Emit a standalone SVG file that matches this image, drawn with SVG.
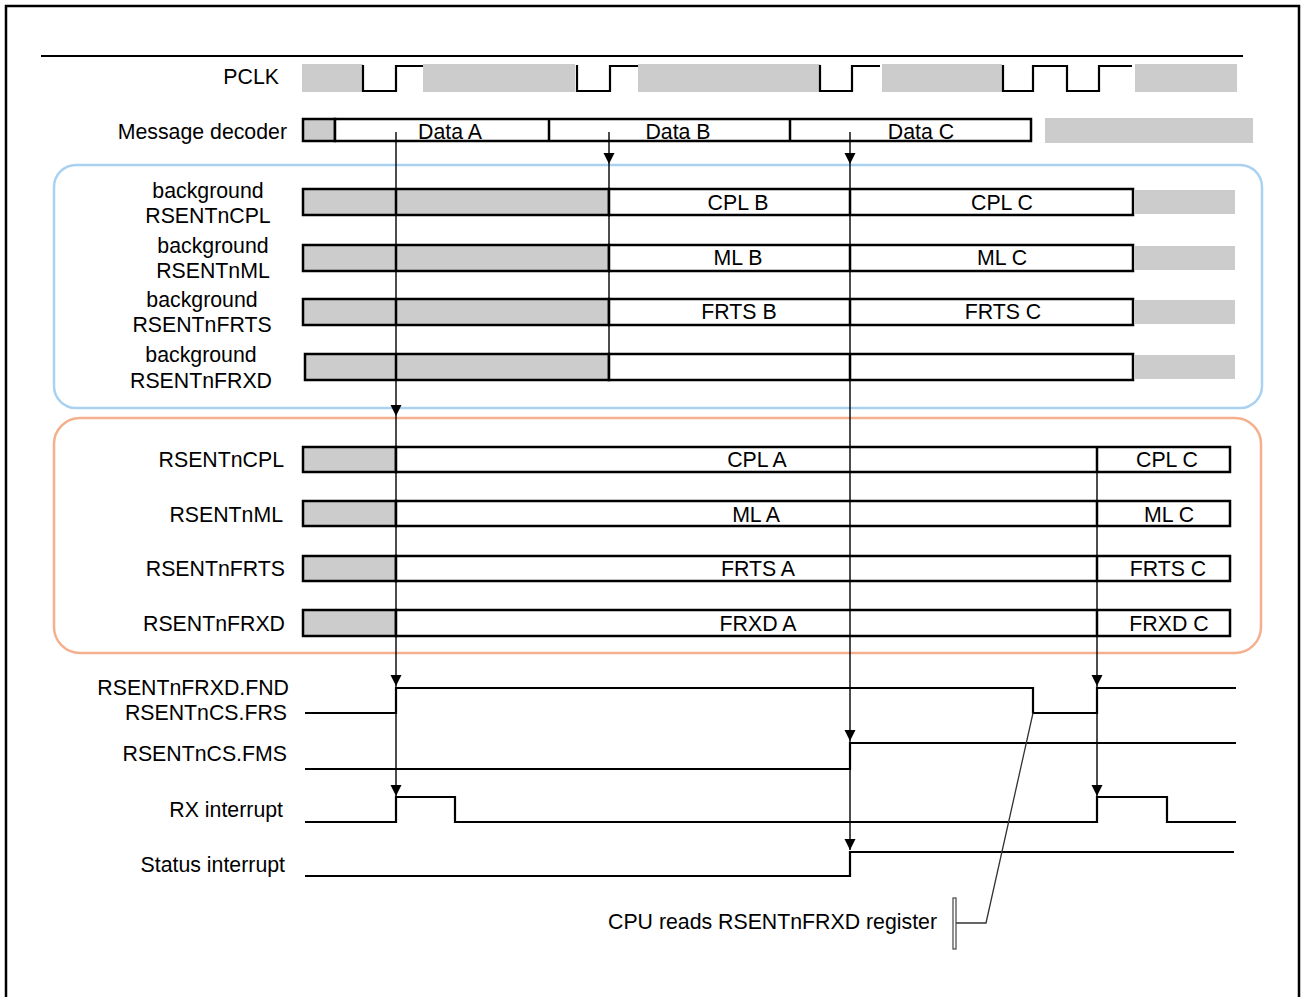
<svg xmlns="http://www.w3.org/2000/svg" width="1301" height="997" viewBox="0 0 1301 997">
<style>
text{font-family:"Liberation Sans",Arial,sans-serif;font-size:21.3px;fill:#000}
.r{text-anchor:end}.c{text-anchor:middle}
.box{fill:#fff;stroke:#000;stroke-width:2.5}
.gbox{fill:#ccc;stroke:#000;stroke-width:2.5}
.g{fill:#ccc;stroke:none}
.div{stroke:#000;stroke-width:2.5}
.wave{fill:none;stroke:#000;stroke-width:2.2}
.arr{stroke:#000;stroke-width:1.4;fill:none}
</style>
<defs>
<marker id="ah" markerUnits="userSpaceOnUse" markerWidth="12" markerHeight="12" refX="11" refY="6" orient="auto">
<path d="M0,0.5 L11,6 L0,11.5 z" fill="#000"/>
</marker>
</defs>
<rect x="0" y="0" width="1301" height="997" fill="#fff"/>
<rect x="6" y="6" width="1293" height="1000" fill="none" stroke="#000" stroke-width="2.5"/>
<line x1="41" y1="56" x2="1243" y2="56" stroke="#000" stroke-width="2.2"/>

<g id="regions">
<rect x="54" y="165" width="1208" height="243" rx="22" fill="none" stroke="#a9d1f2" stroke-width="2.5"/>
<rect x="54" y="418" width="1207" height="235" rx="26" fill="none" stroke="#f4b08c" stroke-width="2.5"/>
</g>

<g id="pclk">
<text class="r" x="279" y="84">PCLK</text>
<rect class="g" x="302" y="64" width="61" height="28"/>
<rect class="g" x="423" y="64" width="152" height="28"/>
<rect class="g" x="638" y="64" width="182" height="28"/>
<rect class="g" x="882" y="64" width="120" height="28"/>
<rect class="g" x="1135" y="64" width="102" height="28"/>
<path class="wave" d="M363,65 V91 H396 V66 H423"/>
<path class="wave" d="M577,65 V91 H610 V66 H638"/>
<path class="wave" d="M820,65 V91 H852 V66 H880"/>
<path class="wave" d="M1003,65 V91 H1033 V66 H1067 V91 H1099 V66 H1132"/>
</g>

<g id="decoder">
<text class="r" x="287" y="139">Message decoder</text>
<rect class="gbox" x="303" y="119" width="32" height="22"/>
<rect class="box" x="335" y="119" width="696" height="22"/>
<line class="div" x1="549" y1="119" x2="549" y2="141"/>
<line class="div" x1="790" y1="119" x2="790" y2="141"/>
<text class="c" x="450" y="139">Data A</text>
<text class="c" x="678" y="139">Data B</text>
<text class="c" x="921" y="139">Data C</text>
<rect class="g" x="1045" y="118" width="208" height="25"/>
</g>

<g id="bg-cpl">
<text class="c" x="208" y="198">background</text>
<text class="c" x="208" y="223">RSENTnCPL</text>
<rect class="gbox" x="303" y="189" width="306" height="26"/>
<rect class="box" x="609" y="189" width="524" height="26"/>
<line class="div" x1="396" y1="189" x2="396" y2="215"/>
<line class="div" x1="850" y1="189" x2="850" y2="215"/>
<text class="c" x="738" y="210">CPL B</text>
<text class="c" x="1002" y="210">CPL C</text>
<rect class="g" x="1134" y="190" width="101" height="24"/>
</g>

<g id="bg-ml">
<text class="c" x="213" y="253">background</text>
<text class="c" x="213" y="278">RSENTnML</text>
<rect class="gbox" x="303" y="245" width="306" height="26"/>
<rect class="box" x="609" y="245" width="524" height="26"/>
<line class="div" x1="396" y1="245" x2="396" y2="271"/>
<line class="div" x1="850" y1="245" x2="850" y2="271"/>
<text class="c" x="738" y="265">ML B</text>
<text class="c" x="1002" y="265">ML C</text>
<rect class="g" x="1134" y="246" width="101" height="24"/>
</g>

<g id="bg-frts">
<text class="c" x="202" y="307">background</text>
<text class="c" x="202" y="332">RSENTnFRTS</text>
<rect class="gbox" x="303" y="299" width="306" height="26"/>
<rect class="box" x="609" y="299" width="524" height="26"/>
<line class="div" x1="396" y1="299" x2="396" y2="325"/>
<line class="div" x1="850" y1="299" x2="850" y2="325"/>
<text class="c" x="739" y="319">FRTS B</text>
<text class="c" x="1003" y="319">FRTS C</text>
<rect class="g" x="1134" y="300" width="101" height="24"/>
</g>

<g id="bg-frxd">
<text class="c" x="201" y="362">background</text>
<text class="c" x="201" y="388">RSENTnFRXD</text>
<rect class="gbox" x="305" y="354" width="304" height="26"/>
<rect class="box" x="609" y="354" width="524" height="26"/>
<line class="div" x1="396" y1="354" x2="396" y2="380"/>
<line class="div" x1="850" y1="354" x2="850" y2="380"/>
<rect class="g" x="1134" y="355" width="101" height="24"/>
</g>

<g id="cpl">
<text class="r" x="284" y="467">RSENTnCPL</text>
<rect class="gbox" x="303" y="447" width="93" height="25"/>
<rect class="box" x="396" y="447" width="834" height="25"/>
<line class="div" x1="1097" y1="447" x2="1097" y2="472"/>
<text class="c" x="757" y="467">CPL A</text>
<text class="c" x="1167" y="467">CPL C</text>
</g>

<g id="ml">
<text class="r" x="283" y="522">RSENTnML</text>
<rect class="gbox" x="303" y="501" width="93" height="25"/>
<rect class="box" x="396" y="501" width="834" height="25"/>
<line class="div" x1="1097" y1="501" x2="1097" y2="526"/>
<text class="c" x="756" y="522">ML A</text>
<text class="c" x="1169" y="522">ML C</text>
</g>

<g id="frts">
<text class="r" x="285" y="576">RSENTnFRTS</text>
<rect class="gbox" x="303" y="556" width="93" height="25"/>
<rect class="box" x="396" y="556" width="834" height="25"/>
<line class="div" x1="1097" y1="556" x2="1097" y2="581"/>
<text class="c" x="758" y="576">FRTS A</text>
<text class="c" x="1168" y="576">FRTS C</text>
</g>

<g id="frxd">
<text class="r" x="285" y="631">RSENTnFRXD</text>
<rect class="gbox" x="303" y="610" width="93" height="26"/>
<rect class="box" x="396" y="610" width="834" height="26"/>
<line class="div" x1="1097" y1="610" x2="1097" y2="636"/>
<text class="c" x="758" y="631">FRXD A</text>
<text class="c" x="1169" y="631">FRXD C</text>
</g>

<g id="fnd">
<text class="r" x="289" y="695">RSENTnFRXD.FND</text>
<text class="r" x="287" y="720">RSENTnCS.FRS</text>
<path class="wave" d="M305,713 H396 V688 H1033 V713 H1097 V688 H1236"/>
</g>

<g id="fms">
<text class="r" x="287" y="761">RSENTnCS.FMS</text>
<path class="wave" d="M305,769 H850 V743 H1236"/>
</g>

<g id="rxint">
<text class="r" x="283" y="817">RX interrupt</text>
<path class="wave" d="M305,822 H396 V797 H455 V822 H1097 V797 H1167 V822 H1236"/>
</g>

<g id="stint">
<text class="r" x="285" y="872">Status interrupt</text>
<path class="wave" d="M305,876 H850 V852 H1234"/>
</g>

<g id="cpu-note">
<text class="r" x="937" y="929">CPU reads RSENTnFRXD register</text>
<path d="M1033,713 L986,923 H955" fill="none" stroke="#333" stroke-width="1.3"/>
<rect x="953" y="898" width="3" height="51" fill="#fff" stroke="#444" stroke-width="1.2"/>
</g>

<g id="connectors">
<line class="arr" x1="396" y1="132" x2="396" y2="416" marker-end="url(#ah)"/>
<line class="arr" x1="396" y1="416" x2="396" y2="686" marker-end="url(#ah)"/>
<line class="arr" x1="396" y1="686" x2="396" y2="796" marker-end="url(#ah)"/>
<line class="arr" x1="609" y1="132" x2="609" y2="164" marker-end="url(#ah)"/>
<line class="arr" x1="609" y1="164" x2="609" y2="380"/>
<line class="arr" x1="850" y1="132" x2="850" y2="164" marker-end="url(#ah)"/>
<line class="arr" x1="850" y1="164" x2="850" y2="741" marker-end="url(#ah)"/>
<line class="arr" x1="850" y1="741" x2="850" y2="850" marker-end="url(#ah)"/>
<line class="arr" x1="1097" y1="447" x2="1097" y2="686" marker-end="url(#ah)"/>
<line class="arr" x1="1097" y1="686" x2="1097" y2="796" marker-end="url(#ah)"/>
</g>
</svg>
